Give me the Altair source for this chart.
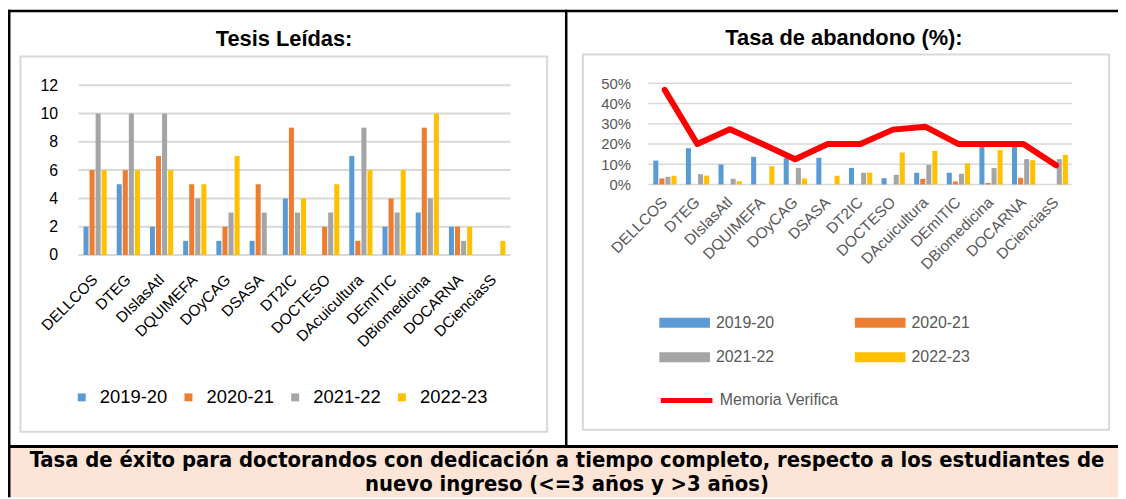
import altair as alt
import pandas as pd

categories = ["DELLCOS", "DTEG", "DIslasAtl", "DQUIMEFA", "DOyCAG", "DSASA", "DT2IC",
              "DOCTESO", "DAcuicultura", "DEmITIC", "DBiomedicina", "DOCARNA", "DCienciasS"]
years = ["2019-20", "2020-21", "2021-22", "2022-23"]
colors = ["#5b9bd5", "#ed7d31", "#a5a5a5", "#ffc000"]

# Tesis leídas
tesis_1920 = [2, 5, 2, 1, 1, 1, 4, 0, 7, 2, 3, 2, 0]
tesis_2021 = [6, 6, 7, 5, 2, 5, 9, 2, 1, 4, 9, 2, 0]
tesis_2122 = [10, 10, 10, 4, 3, 3, 3, 3, 9, 3, 4, 1, 0]
tesis_2223 = [6, 6, 6, 5, 7, 0, 4, 5, 6, 6, 10, 2, 1]
ticks_left = [0, 2, 4, 6, 8, 10, 12]

# Tasa de abandono (%)
aband_1920 = [11.8, 17.9, 9.9, 13.7, 13.0, 13.2, 8.2, 3.1, 5.8, 5.8, 20.0, 20.0, 0]
aband_2021 = [3.0, 0, 0, 0, 0, 0, 0, 0, 2.8, 1.5, 0.8, 3.3, 0]
aband_2122 = [3.8, 5.1, 2.8, 0, 8.2, 0, 5.8, 4.8, 9.7, 5.3, 8.1, 12.5, 12.5]
aband_2223 = [4.3, 4.4, 1.6, 9.0, 3.0, 4.3, 5.9, 15.8, 16.6, 10.4, 17.0, 12.0, 14.6]
memoria = [46.7, 20, 27.3, 20, 12.5, 20, 20, 27.1, 28.5, 20, 20, 20, 9.5]
ticks_right = [0, 0.1, 0.2, 0.3, 0.4, 0.5]

title_left = "Tesis Leídas:"
title_right = "Tasa de abandono (%):"
footer_1 = "Tasa de éxito para doctorandos con dedicación a tiempo completo, respecto a los estudiantes de"
footer_2 = "nuevo ingreso (<=3 años y >3 años)"

FONT = "Liberation Sans"

rows = []
for y, vals in zip(years, [tesis_1920, tesis_2021, tesis_2122, tesis_2223]):
    for c, v in zip(categories, vals):
        rows.append({"cat": c, "year": y, "v": v})
df_tesis = pd.DataFrame(rows)

rows = []
for y, vals in zip(years, [aband_1920, aband_2021, aband_2122, aband_2223]):
    for c, v in zip(categories, vals):
        rows.append({"cat": c, "year": y, "v": v / 100})
df_aband = pd.DataFrame(rows)
df_mem = pd.DataFrame({"cat": categories, "v": [m / 100 for m in memoria],
                       "serie": ["Memoria Verifica"] * len(categories)})

one = pd.DataFrame({"d": [0]})


def box(x, x2, y, y2, fill=None, stroke=None, sw=0):
    kw = {}
    if fill:
        kw["fill"] = fill
    else:
        kw["fillOpacity"] = 0
    if stroke:
        kw["stroke"] = stroke
        kw["strokeWidth"] = sw
    return alt.Chart(one).mark_rect(**kw).encode(
        x=alt.value(x), x2=alt.value(x2), y=alt.value(y), y2=alt.value(y2))


def label(txt, x, y, size, bold=True, font=FONT):
    return alt.Chart(one).mark_text(
        text=txt, font=font, fontSize=size, fontWeight="bold" if bold else "normal",
        color="#000000", align="center", baseline="middle").encode(
        x=alt.value(x), y=alt.value(y))


# left panel origin at page (79, 82)
deco = [
    box(-71, 1047, 367, 417, fill="#fce4d6"),
    box(-71, 1047, 364.5, 367.5, fill="#000000"),
    box(-71, 1047, -74, -71.5, fill="#000000"),
    box(-71, -68.5, -74, 417, fill="#000000"),
    box(490, 492.5, -74, 367, fill="#000000"),
    box(-58.5, 472, -27, 351, stroke="#d9d9d9", sw=2),
    box(508, 1038, -29, 349, stroke="#d9d9d9", sw=2),
    label(title_left, 207, -44, 22),
    label(title_right, 771, -46, 22),
    label(footer_1, 492, 379.5, 22, font="DejaVu Sans Condensed"),
    label(footer_2, 492, 404, 22, font="DejaVu Sans Condensed"),
]

grid_left = alt.Chart(pd.DataFrame({"v": ticks_left})).mark_rule(
    color="#d9d9d9", strokeWidth=2).encode(y=alt.Y("v:Q"))

bars_left = alt.Chart(df_tesis).mark_bar().encode(
    x=alt.X("cat:N", sort=categories, title=None,
            scale=alt.Scale(paddingInner=0.3, paddingOuter=0.15),
            axis=alt.Axis(labelAngle=-45, labelAlign="right", labelBaseline="middle",
                          labelFontSize=15.5, labelFont=FONT, labelColor="#000000",
                          labelPadding=22, ticks=False, domain=False, grid=False)),
    xOffset=alt.XOffset("year:N", sort=years, scale=alt.Scale(paddingInner=0.17)),
    y=alt.Y("v:Q", title=None, scale=alt.Scale(domain=[0, 12.14], nice=False),
            axis=alt.Axis(values=ticks_left, tickCount=len(ticks_left), grid=False,
                          domain=False, ticks=False,
                          labelFontSize=16, labelFont=FONT, labelColor="#000000",
                          labelPadding=21, labelOverlap=False)),
    color=alt.Color("year:N", sort=years, scale=alt.Scale(domain=years, range=colors),
                    legend=alt.Legend(orient="none", legendX=-6, legendY=307,
                                      direction="horizontal", columns=4, title=None,
                                      symbolType="square", symbolSize=64,
                                      labelFontSize=18.5, labelFont=FONT, labelColor="#000000",
                                      labelOffset=9, columnPadding=11.5, padding=0)),
)

left = alt.layer(*deco, grid_left, bars_left).properties(width=435, height=173)

grid_right = alt.Chart(pd.DataFrame({"v": ticks_right})).mark_rule(
    color="#d9d9d9", strokeWidth=1.5).encode(y=alt.Y("v:Q"))

bars_right = alt.Chart(df_aband).mark_bar().encode(
    x=alt.X("cat:N", sort=categories, title=None,
            scale=alt.Scale(paddingInner=0.3, paddingOuter=0.15),
            axis=alt.Axis(labelAngle=-45, labelAlign="right", labelBaseline="middle",
                          labelFontSize=15.5, labelFont=FONT, labelColor="#595959",
                          labelPadding=15, ticks=False, domain=False, grid=False)),
    xOffset=alt.XOffset("year:N", sort=years, scale=alt.Scale(paddingInner=0.17)),
    y=alt.Y("v:Q", title=None, scale=alt.Scale(domain=[0, 0.5], nice=False),
            axis=alt.Axis(values=ticks_right, tickCount=len(ticks_right), format=".0%",
                          grid=False, domain=False,
                          ticks=False, labelFontSize=15, labelFont=FONT,
                          labelColor="#595959", labelPadding=18, labelOverlap=False)),
    color=alt.Color("year:N", sort=years, scale=alt.Scale(domain=years, range=colors),
                    legend=alt.Legend(orient="none", legendX=10, legendY=214.5,
                                      direction="horizontal", columns=2, title=None,
                                      symbolType="M-1,-0.2H1V0.2H-1Z", symbolSize=2601,
                                      labelFontSize=16, labelFont=FONT, labelColor="#595959",
                                      labelOffset=5, columnPadding=80, rowPadding=-4,
                                      padding=0)),
)

line_right = alt.Chart(df_mem).mark_line(strokeWidth=6, strokeCap="round",
                                         strokeJoin="round").encode(
    x=alt.X("cat:N", sort=categories),
    y=alt.Y("v:Q"),
    stroke=alt.Stroke("serie:N", scale=alt.Scale(domain=["Memoria Verifica"], range=["#ff0000"]),
                      legend=alt.Legend(orient="none", legendX=10, legendY=291, title=None,
                                        symbolType="stroke", symbolSize=2704,
                                        symbolStrokeWidth=5, labelFontSize=16,
                                        labelFont=FONT, labelColor="#595959",
                                        labelOffset=5, padding=0)),
)

right = alt.layer(grid_right, bars_right, line_right).properties(width=427, height=102)

chart = alt.hconcat(left, right, spacing=139, bounds="flush").resolve_scale(
    color="independent", stroke="independent").resolve_legend(
    color="independent", stroke="independent").configure_view(stroke=None).properties(
    background="#ffffff", padding=0)

chart.save("out.html", embed_options={"renderer": "svg", "actions": False})
